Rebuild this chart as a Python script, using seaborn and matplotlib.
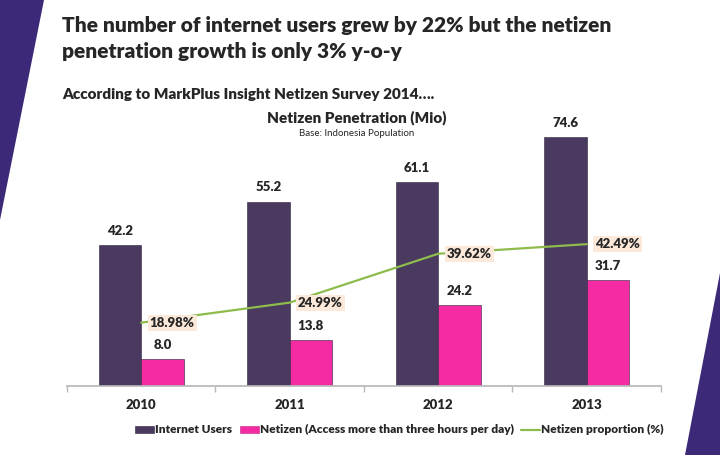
import matplotlib
matplotlib.use("Agg")
import matplotlib.pyplot as plt
from matplotlib.patches import Patch, Polygon
from matplotlib.lines import Line2D
import numpy as np
import pandas as pd
import seaborn as sns

# data
years = ["2010", "2011", "2012", "2013"]
internet_users = [42.2, 55.2, 61.1, 74.6]
netizen = [8.0, 13.8, 24.2, 31.7]
netizen_pct = [18.98, 24.99, 39.62, 42.49]

series_names = ["Internet Users", "Netizen (Access more than three hours per day)"]
line_name = "Netizen proportion (%)"

PURPLE = "#4a3a5f"
PINK = "#f52ba3"
GREEN = "#8dbb4c"
BAND = "#3c2a78"
HEAVY = "heavy"

sns.set_theme(style="white")
plt.rcParams["font.family"] = ["Lato", "DejaVu Sans"]

df = pd.DataFrame({
    "year": years * 2,
    "value": internet_users + netizen,
    "series": [series_names[0]] * 4 + [series_names[1]] * 4,
})

fig = plt.figure(figsize=(7.2, 4.55), dpi=100)
ax = fig.add_axes([0.093, 0.1516, 0.825, 0.587])

sns.barplot(data=df, x="year", y="value", hue="series", palette=[PURPLE, PINK],
            width=0.57, saturation=1, ax=ax, legend=False,
            edgecolor="#2d2340", linewidth=0.4)
ax.set_xlim(-0.5, 3.5)
ax.set_ylim(0, 80)

# value labels above bars
for cont in ax.containers:
    ax.bar_label(cont, fmt="%.1f", padding=6, fontsize=9.5, fontweight=HEAVY)

# proportion line on twin axis (same visual scale)
ax2 = ax.twinx()
sns.lineplot(x=np.arange(len(years)), y=netizen_pct, ax=ax2, color=GREEN, linewidth=1.6)
ax2.set_ylim(0, 80)
ax2.set_xlim(-0.5, 3.5)
for i, v in enumerate(netizen_pct):
    ax2.annotate(f"{v:.2f}%", (i, v), xytext=(6, 0), textcoords="offset points",
                 ha="left", va="center", fontsize=9.5, fontweight=HEAVY,
                 bbox=dict(boxstyle="square,pad=0.15", fc="#fde9d9", ec="none"))

for a in (ax, ax2):
    a.set_yticks([])
    a.set_ylabel("")
    for s in ("top", "right", "left"):
        a.spines[s].set_visible(False)
ax2.spines["bottom"].set_visible(False)
ax.spines["bottom"].set_color("#b8b8b8")
ax.set_xlabel("")
ax.set_xticks(range(len(years)))
ax.set_xticklabels(years, fontsize=9.5, fontweight=HEAVY)
ax.tick_params(axis="x", which="major", length=0, pad=9)
ax.set_xticks(np.arange(-0.5, 4, 1), minor=True)
ax.tick_params(axis="x", which="minor", length=4, color="#b8b8b8", bottom=True)

# legend
handles = [Patch(fc=PURPLE, ec="#2d2340", lw=0.4),
           Patch(fc=PINK, ec="#c01f80", lw=0.4),
           Line2D([0], [0], color=GREEN, lw=1.6)]
fig.legend(handles, series_names + [line_name], loc="center", bbox_to_anchor=(0.555, 0.055),
           ncol=3, frameon=False, handlelength=1.6, handleheight=0.55, handletextpad=0.1,
           columnspacing=0.6, prop=dict(size=8.6, weight=HEAVY))

# titles
fig.text(0.086, 0.945, "The number of internet users grew by 22% but the netizen",
         fontsize=15, fontweight=HEAVY, va="center")
fig.text(0.086, 0.886, "penetration growth is only 3% y-o-y",
         fontsize=15, fontweight=HEAVY, va="center")
fig.text(0.086, 0.793, "According to MarkPlus Insight Netizen Survey 2014….",
         fontsize=11, fontweight=HEAVY, va="center")
fig.text(0.495, 0.741, "Netizen Penetration (Mio)", fontsize=11, fontweight=HEAVY,
         ha="center", va="center")
fig.text(0.495, 0.706, "Base: Indonesia Population", fontsize=7, ha="center", va="center")

# slide decoration bands
fig.patches.append(Polygon([[0, 1], [44 / 720, 1], [0, 1 - 220 / 455]], closed=True,
                           transform=fig.transFigure, fc=BAND, ec="none"))
fig.patches.append(Polygon([[1, 1 - 273 / 455], [685 / 720, 0], [1, 0]], closed=True,
                           transform=fig.transFigure, fc=BAND, ec="none"))

fig.savefig("out.png", dpi=100)
